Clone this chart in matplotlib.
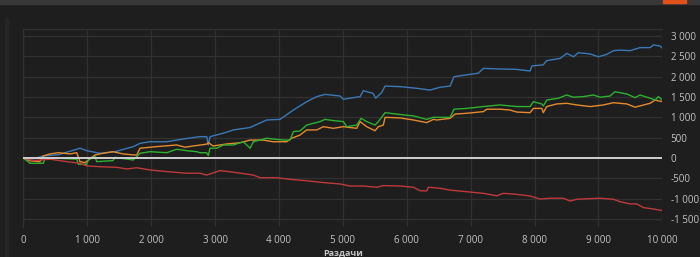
import matplotlib
matplotlib.use("Agg")
import matplotlib.pyplot as plt
from matplotlib.ticker import FuncFormatter

# hands played (x) and winnings of each line
blue_x = [0, 156, 313, 548, 887, 992, 1200, 1435, 1721, 1826, 1983, 2244, 2401, 2557,
          2765, 2870, 2895, 2922, 3130, 3287, 3548, 3809, 4017, 4226, 4435, 4592, 4722,
          4957, 5008, 5270, 5321, 5474, 5515, 5610, 5661, 5896, 6157, 6365, 6521, 6678,
          6740, 6912, 7120, 7200, 7460, 7721, 7930, 7960, 8135, 8190, 8400, 8505, 8610,
          8685, 8870, 9000, 9130, 9235, 9340, 9495, 9650, 9810, 9860, 9965, 10000]
blue_y = [0, -20, 50, 80, 240, 180, 115, 155, 280, 360, 400, 400, 440, 480,
          525, 525, 320, 525, 610, 690, 750, 935, 950, 1180, 1385, 1510, 1565,
          1525, 1445, 1510, 1655, 1590, 1470, 1615, 1770, 1755, 1715, 1670, 1740, 1770,
          2000, 2040, 2085, 2205, 2190, 2180, 2140, 2265, 2290, 2395, 2450, 2575, 2490,
          2590, 2560, 2490, 2550, 2640, 2655, 2640, 2715, 2715, 2780, 2755, 2700]

orange_x = [0, 105, 261, 313, 418, 548, 731, 836, 887, 966, 1122, 1247, 1404, 1560,
            1721, 1775, 1826, 2088, 2401, 2531, 2656, 2870, 2895, 2969, 3183, 3391, 3548,
            3756, 3908, 4122, 4200, 4330, 4435, 4592, 4695, 4852, 5008, 5218, 5270, 5374,
            5504, 5556, 5634, 5661, 5896, 6104, 6313, 6417, 6470, 6678, 6756, 6939, 7199,
            7252, 7460, 7617, 7721, 7930, 7982, 8113, 8138, 8191, 8348, 8504, 8661, 8870,
            9078, 9234, 9443, 9573, 9808, 9886, 10000]
orange_y = [0, -70, -90, 50, 100, 130, 100, 130, -90, -115, 75, 115, 155, 100,
            75, 75, 240, 280, 320, 265, 295, 340, 380, 295, 345, 375, 440,
            440, 400, 400, 485, 565, 690, 690, 770, 730, 770, 730, 895, 770,
            670, 770, 810, 1000, 985, 935, 870, 950, 935, 975, 1080, 1100, 1140,
            1200, 1200, 1180, 1130, 1115, 1220, 1220, 1115, 1265, 1330, 1345, 1305, 1265,
            1305, 1360, 1330, 1250, 1345, 1425, 1385]

green_x = [0, 105, 313, 340, 574, 836, 861, 992, 1017, 1122, 1149, 1404, 1435, 1721,
           1775, 1826, 1983, 2244, 2401, 2557, 2714, 2765, 2870, 2895, 2922, 3027, 3130,
           3287, 3443, 3496, 3548, 3600, 3809, 4069, 4174, 4226, 4330, 4435, 4643, 4722,
           4852, 5008, 5061, 5218, 5285, 5374, 5504, 5556, 5661, 5896, 6104, 6313, 6417,
           6678, 6740, 6939, 7199, 7460, 7721, 7930, 7982, 8113, 8138, 8191, 8373, 8504,
           8608, 8765, 8921, 9026, 9182, 9260, 9443, 9573, 9651, 9808, 9886, 9938, 10000]
green_y = [0, -130, -130, -10, -10, -30, -155, -155, -50, 40, -90, -65, 15, -50,
           30, 115, 155, 130, 215, 180, 155, 130, 130, 60, 240, 240, 320,
           320, 400, 320, 240, 400, 485, 440, 440, 650, 665, 810, 895, 950,
           920, 895, 770, 810, 975, 895, 810, 895, 1115, 1070, 1035, 950, 1000,
           1000, 1200, 1220, 1265, 1305, 1265, 1265, 1385, 1330, 1280, 1425, 1470, 1550,
           1495, 1510, 1550, 1495, 1525, 1630, 1575, 1485, 1550, 1470, 1425, 1510, 1425]

red_x = [0, 156, 418, 679, 887, 992, 1200, 1462, 1618, 1775, 1983, 2244, 2557, 2765,
         2870, 3078, 3287, 3600, 3704, 3966, 4174, 4435, 4695, 4957, 5113, 5321, 5531,
         5634, 5896, 6104, 6209, 6313, 6339, 6521, 6678, 6939, 7199, 7409, 7512, 7721,
         7930, 8087, 8243, 8451, 8556, 8661, 8870, 9026, 9234, 9338, 9495, 9599, 9703,
         9860, 10000]
red_y = [0, -65, -30, -90, -130, -195, -215, -230, -270, -240, -295, -335, -375, -375,
         -420, -310, -350, -420, -485, -485, -525, -560, -605, -640, -690, -690, -720,
         -680, -690, -720, -805, -810, -720, -745, -790, -830, -870, -930, -870, -895,
         -935, -1010, -990, -990, -1060, -1015, -1000, -990, -1015, -1075, -1130, -1130, -1220,
         -1255, -1295]

x_ticks = list(range(0, 10001, 1000))
y_ticks = list(range(-1500, 3001, 500))

bg = "#1e1e1e"
grid_c = "#313131"
text_c = "#c4c4c4"


def fmt(v, pos=None):
    s = "{:,}".format(int(abs(v))).replace(",", " ")
    return ("-" if v < 0 else "") + s


def main():
    plt.rcParams['font.family'] = ['Open Sans', 'DejaVu Sans']
    fig = plt.figure(figsize=(7, 2.57), dpi=100, facecolor=bg)

    # window chrome: top bar and a faint left strip
    fig.patches.append(plt.Rectangle((0, 0.985), 1, 0.015, transform=fig.transFigure,
                                     color="#383838", zorder=0))
    fig.patches.append(plt.Rectangle((0.947, 0.988), 0.033, 0.012, transform=fig.transFigure,
                                     color="#e0521a", zorder=1))
    fig.patches.append(plt.Rectangle((0.007, 0.0), 0.004, 0.93, transform=fig.transFigure,
                                     color="#262626", zorder=0))

    ax = fig.add_axes([0.0333, 0.118, 0.9129, 0.768])
    ax.set_facecolor(bg)

    ax.plot(blue_x, blue_y, color="#3b78b6", lw=1.0, zorder=3)
    ax.plot(orange_x, orange_y, color="#e68a2e", lw=1.0, zorder=3)
    ax.plot(green_x, green_y, color="#2fb02f", lw=1.0, zorder=3)
    ax.plot(red_x, red_y, color="#c0393b", lw=1.0, zorder=3)
    ax.axhline(0, color="#cfcfcf", lw=1.4, zorder=4)

    ax.set_xlim(0, 10000)
    ax.set_ylim(-1690, 3166)
    ax.set_xticks(x_ticks)
    ax.set_yticks(y_ticks)
    ax.xaxis.set_major_formatter(FuncFormatter(fmt))
    ax.yaxis.set_major_formatter(FuncFormatter(fmt))
    ax.yaxis.tick_right()
    ax.tick_params(axis='both', length=0, colors=text_c, labelsize=7)
    ax.tick_params(axis='x', pad=6)
    ax.tick_params(axis='y', pad=6)
    ax.grid(True, color=grid_c, lw=0.9)
    for name, sp in ax.spines.items():
        sp.set_color(grid_c)
        sp.set_linewidth(0.9)
    ax.spines['right'].set_visible(False)
    ax.spines['bottom'].set_visible(False)

    fig.text(0.49, 0.0, "Раздачи", color=text_c, fontsize=6.5, fontweight='bold',
             ha='center', va='bottom')

    fig.savefig("out.png", dpi=100, facecolor=bg)


if __name__ == '__main__':
    main()
